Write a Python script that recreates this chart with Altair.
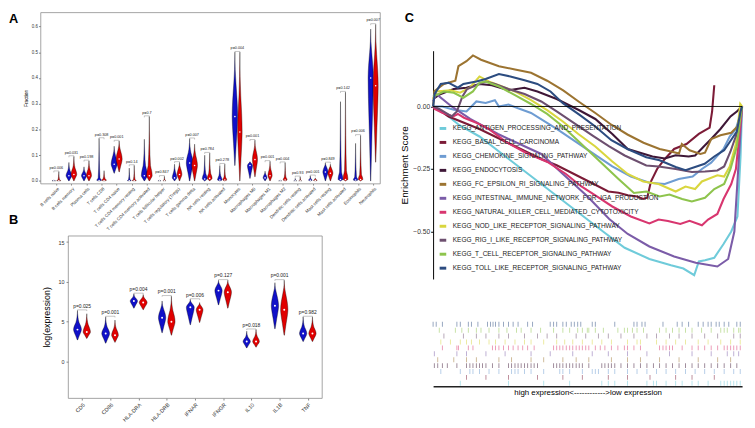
import json
import altair as alt
import pandas as pd

BLUE = "#1010C8"
RED = "#E00000"

# ---------------- Panel A : immune cell fractions ----------------
CELLS = ["B cells naive", "B cells memory", "Plasma cells", "T cells CD8", "T cells CD4 naive",
         "T cells CD4 memory resting", "T cells CD4 memory activated", "T cells follicular helper",
         "T cells regulatory (Tregs)", "T cells gamma delta", "NK cells resting", "NK cells activated",
         "Monocytes", "Macrophages M0", "Macrophages M1", "Macrophages M2", "Dendritic cells resting",
         "Dendritic cells activated", "Mast cells resting", "Mast cells activated", "Eosinophils",
         "Neutrophils"]
A_BLUE_MIN = [0, 0, 0, 0, 0.03, 0, 0, 0, 0, 0, 0, 0, 0.06, 0.01, 0, 0, 0, 0, 0, 0, 0, 0]
A_BLUE_MODE = [0.0005, 0.02, 0.02, 0.002, 0.065, 0.001, 0.02, 0.0005, 0.012, 0.07, 0.008, 0.004,
               0.25, 0.06, 0.012, 0.0005, 0.0005, 0.003, 0.035, 0.006, 0.004, 0.40]
A_BLUE_BODY = [0.002, 0.04, 0.035, 0.012, 0.10, 0.006, 0.06, 0.002, 0.035, 0.11, 0.03, 0.02,
               0.38, 0.07, 0.025, 0.002, 0.002, 0.008, 0.055, 0.035, 0.015, 0.50]
A_BLUE_MAX = [0.004, 0.072, 0.055, 0.165, 0.135, 0.05, 0.162, 0.003, 0.065, 0.164, 0.10, 0.06,
              0.50, 0.075, 0.038, 0.004, 0.01, 0.02, 0.07, 0.308, 0.146, 0.59]
A_BLUE_W = [0.12, 0.19, 0.17, 0.15, 0.20, 0.12, 0.20, 0.10, 0.15, 0.22, 0.16, 0.15,
            0.18, 0.17, 0.13, 0.10, 0.10, 0.12, 0.17, 0.16, 0.15, 0.17]
A_RED_MIN = [0, 0, 0, 0, 0.035, 0, 0, 0, 0, 0, 0, 0, 0.0, 0.016, 0, 0, 0, 0, 0, 0, 0, 0.073]
A_RED_MODE = [0.001, 0.025, 0.02, 0.002, 0.085, 0.001, 0.02, 0.0005, 0.025, 0.06, 0.01, 0.004,
              0.19, 0.083, 0.02, 0.004, 0.0005, 0.002, 0.03, 0.006, 0.006, 0.37]
A_RED_BODY = [0.004, 0.05, 0.045, 0.01, 0.12, 0.006, 0.06, 0.003, 0.05, 0.10, 0.03, 0.015,
              0.33, 0.12, 0.045, 0.015, 0.002, 0.006, 0.05, 0.04, 0.025, 0.49]
A_RED_MAX = [0.036, 0.095, 0.078, 0.04, 0.155, 0.06, 0.25, 0.018, 0.072, 0.143, 0.108, 0.065,
             0.50, 0.158, 0.076, 0.071, 0.016, 0.012, 0.065, 0.345, 0.177, 0.608]
A_RED_W = [0.14, 0.19, 0.17, 0.15, 0.20, 0.13, 0.19, 0.10, 0.16, 0.19, 0.16, 0.13,
           0.15, 0.17, 0.14, 0.13, 0.10, 0.12, 0.17, 0.16, 0.15, 0.17]
A_P = ["p=0.006", "p=0.031", "p=0.198", "p=0.308", "p=0.001", "p=0.14", "p=0.7", "p=0.847",
       "p=0.002", "p=0.007", "p=0.784", "p=0.278", "p=0.004", "p=0.001", "p=0.001", "p=0.004",
       "p=0.93", "p=0.001", "p=0.849", "p=0.142", "p=0.006", "p=0.007"]

# ---------------- Panel B : gene expression ----------------
GENES = ["CD5", "CD86", "HLA-DRA", "HLA-DRB", "IFNAR", "IFNGR", "IL10", "IL1B", "TNF"]
B_BLUE_MIN = [2.7, 2.3, 6.7, 3.6, 4.6, 7.1, 1.7, 4.1, 2.5]
B_BLUE_MODE = [4.0, 3.5, 7.6, 5.5, 6.8, 8.9, 2.5, 7.0, 3.5]
B_BLUE_BODY = [4.9, 4.3, 8.0, 6.6, 7.3, 9.6, 3.0, 8.6, 4.3]
B_BLUE_MAX = [6.4, 5.6, 8.5, 7.6, 7.8, 10.2, 3.8, 9.9, 5.6]
B_BLUE_W = [0.14, 0.14, 0.13, 0.13, 0.14, 0.13, 0.13, 0.13, 0.13]
B_RED_MIN = [2.9, 2.4, 6.5, 3.3, 4.9, 6.7, 1.8, 3.3, 2.5]
B_RED_MODE = [3.7, 3.3, 7.4, 5.0, 6.5, 8.7, 2.5, 6.5, 3.5]
B_RED_BODY = [4.6, 4.1, 7.9, 6.4, 7.0, 9.5, 3.1, 8.5, 4.3]
B_RED_MAX = [6.0, 5.2, 8.4, 8.2, 7.4, 10.2, 4.0, 10.2, 5.6]
B_RED_W = [0.13, 0.12, 0.14, 0.13, 0.12, 0.13, 0.12, 0.13, 0.13]
B_P = ["p=0.025", "p=0.001", "p=0.004", "p=0.001", "p=0.006", "p=0.127", "p=0.018", "p=0.001", "p=0.982"]

# generic violin silhouette (segment, fraction along segment, relative half-width)
SIL_PART = ["low", "low", "low", "mode", "up", "up", "tail", "tail"]
SIL_FRAC = [0.0, 0.45, 0.8, 1.0, 0.5, 1.0, 0.45, 1.0]
SIL_WIDTH = [0.05, 0.5, 0.88, 1.0, 0.8, 0.4, 0.12, 0.0]

# ---------------- Panel C : GSEA ----------------
SETS = ["KEGG_ANTIGEN_PROCESSING_AND_PRESENTATION", "KEGG_BASAL_CELL_CARCINOMA",
        "KEGG_CHEMOKINE_SIGNALING_PATHWAY", "KEGG_ENDOCYTOSIS", "KEGG_FC_EPSILON_RI_SIGNALING_PATHWAY",
        "KEGG_INTESTINAL_IMMUNE_NETWORK_FOR_IGA_PRODUCTION", "KEGG_NATURAL_KILLER_CELL_MEDIATED_CYTOTOXICITY",
        "KEGG_NOD_LIKE_RECEPTOR_SIGNALING_PATHWAY", "KEGG_RIG_I_LIKE_RECEPTOR_SIGNALING_PATHWAY",
        "KEGG_T_CELL_RECEPTOR_SIGNALING_PATHWAY", "KEGG_TOLL_LIKE_RECEPTOR_SIGNALING_PATHWAY"]
SET_COLORS = ["#6FCBDA", "#7C1B37", "#6E9CD2", "#3E1737", "#9C7431", "#7B5CA8", "#D8366F",
              "#D9D63F", "#6D4F6F", "#8EC44D", "#2C4C80"]

ANTIGEN_X = [0, 4, 8.5, 15, 25, 35, 45, 55, 62, 70, 77, 81, 84.5, 86, 88, 91, 94, 96.5, 97.5, 98.5, 99.5, 100]
ANTIGEN_Y = [0, -0.03, -0.075, -0.12, -0.215, -0.31, -0.405, -0.50, -0.565, -0.61, -0.635, -0.648, -0.675,
             -0.62, -0.615, -0.605, -0.55, -0.50, -0.47, -0.44, -0.2, 0]
BASAL_X = [0, 2, 5, 10, 15, 20, 25, 30, 35, 40, 44, 48, 52, 56.7, 60, 63, 66, 68, 69.3, 70.5, 72.5, 75, 78,
           82, 86, 89.5, 90.3, 91]
BASAL_Y = [0, -0.015, -0.04, -0.065, -0.09, -0.12, -0.15, -0.18, -0.21, -0.235, -0.26, -0.285, -0.31, -0.34,
           -0.345, -0.355, -0.36, -0.37, -0.365, -0.3, -0.25, -0.21, -0.17, -0.15, -0.11, -0.085, -0.02, 0.085]
CHEMOKINE_X = [0, 3, 6.7, 10.8, 12.4, 14, 17, 20, 21.3, 24.4, 27.5, 31.7, 34.8, 40, 46, 52, 58, 64, 70, 75,
               79.5, 84, 87, 90, 94, 96, 98, 99.2, 100]
CHEMOKINE_Y = [0, 0.0, -0.013, -0.02, 0.0, 0.02, 0.014, 0.025, 0.0, 0.008, -0.007, -0.026, -0.05, -0.09,
               -0.14, -0.19, -0.24, -0.28, -0.305, -0.31, -0.29, -0.28, -0.25, -0.225, -0.17, -0.12, -0.09,
               -0.04, 0]
ENDO_X = [0, 2.5, 6.7, 10.8, 15, 19, 24.4, 29.6, 33.75, 40, 47.3, 52.5, 58, 63, 71, 75, 78.5, 82.7, 84.8,
          88, 90, 93, 96.25, 98.3, 100]
ENDO_Y = [0.03, 0.05, 0.07, 0.075, 0.09, 0.085, 0.065, 0.075, 0.06, 0.03, -0.015, -0.05, -0.11, -0.17,
          -0.2, -0.208, -0.195, -0.2, -0.196, -0.155, -0.13, -0.09, -0.04, -0.02, 0]
FC_X = [0, 0.4, 3.5, 7.2, 8.2, 10.8, 12.9, 15.5, 21.3, 26.5, 31.7, 36.9, 42.1, 47.3, 52.5, 57.7, 62.9,
        68.1, 73.3, 77, 79.6, 80.5, 83, 86.5, 88, 90, 93, 96.5, 98.5, 100]
FC_Y = [0, 0.061, 0.09, 0.103, 0.161, 0.181, 0.204, 0.187, 0.161, 0.148, 0.135, 0.103, 0.064, 0.018,
        -0.026, -0.073, -0.112, -0.145, -0.17, -0.18, -0.188, -0.15, -0.175, -0.19, -0.185, -0.13, -0.115,
        -0.105, -0.08, 0]
INTESTINAL_X = [0, 1, 6, 12, 21, 28, 35, 42, 50, 57, 63, 70, 78, 85, 92, 95.5, 97.5, 99, 100]
INTESTINAL_Y = [0.02, 0.05, 0.0, -0.05, -0.11, -0.15, -0.19, -0.27, -0.36, -0.45, -0.51, -0.56, -0.6,
                -0.625, -0.64, -0.61, -0.5, -0.2, 0]
NK_X = [0, 0.5, 3, 6.5, 8, 10, 14, 18, 24, 30, 37, 43, 48, 53, 58, 64, 70, 73, 76, 80, 83, 87, 89, 92, 94,
        96.5, 98, 99, 100]
NK_Y = [0, -0.01, -0.025, -0.04, -0.03, -0.045, -0.065, -0.09, -0.145, -0.185, -0.222, -0.27, -0.32, -0.36,
        -0.4, -0.44, -0.468, -0.452, -0.458, -0.47, -0.457, -0.475, -0.452, -0.43, -0.37, -0.31, -0.25,
        -0.13, 0]
NOD_X = [0, 1, 5.6, 8.75, 11.9, 15, 18, 21.3, 26.5, 31.7, 36.9, 42, 47, 52.5, 58, 63, 68, 73, 78.5, 81.7,
         84.8, 87, 92, 94.2, 96, 98, 99.4, 100]
NOD_Y = [0.03, 0.06, 0.065, 0.055, 0.075, 0.12, 0.1, 0.085, 0.06, 0.025, -0.015, -0.06, -0.11, -0.16,
         -0.22, -0.27, -0.3, -0.31, -0.34, -0.32, -0.33, -0.3, -0.275, -0.28, -0.24, -0.15, 0.01, 0]
RIG_X = [0, 2, 6, 7.7, 9.5, 11, 17, 20, 24.4, 29.6, 35, 40, 46, 52, 57, 62, 69, 73, 78.5, 83.75, 88, 92,
         94.2, 96.25, 98.5, 100]
RIG_Y = [0.0, -0.01, -0.04, -0.02, 0.04, 0.07, 0.1, 0.09, 0.07, 0.05, 0.02, -0.02, -0.07, -0.12, -0.16,
         -0.196, -0.236, -0.24, -0.25, -0.262, -0.26, -0.256, -0.24, -0.18, -0.1, 0]
TCELL_X = [0, 3.5, 6.7, 9.8, 12.9, 15, 17, 21.3, 26.5, 31.7, 36.9, 42, 48, 54, 60, 65, 69, 73.3, 76.5,
           80.6, 83.75, 88, 91, 94.2, 96.25, 98.3, 99.4, 100]
TCELL_Y = [0.04, 0.06, 0.055, 0.035, 0.06, 0.095, 0.1, 0.08, 0.045, 0.01, -0.03, -0.08, -0.15, -0.22,
           -0.29, -0.346, -0.34, -0.36, -0.352, -0.37, -0.38, -0.365, -0.33, -0.31, -0.25, -0.16, -0.05, 0]
TOLL_X = [0, 0.5, 2.5, 5, 8, 9.8, 14, 17, 21.3, 25, 29.6, 33.75, 38, 42, 47.3, 52.5, 57.7, 62.9, 69, 73.3,
          78.5, 81.7, 87.9, 91, 94.2, 98.3, 99.5, 100]
TOLL_Y = [0.0, 0.05, 0.09, 0.095, 0.075, 0.09, 0.1, 0.11, 0.13, 0.12, 0.105, 0.09, 0.06, 0.013, -0.033,
          -0.08, -0.135, -0.17, -0.203, -0.215, -0.242, -0.255, -0.229, -0.2, -0.175, -0.1, -0.02, 0]
CURVES_X = [ANTIGEN_X, BASAL_X, CHEMOKINE_X, ENDO_X, FC_X, INTESTINAL_X, NK_X, NOD_X, RIG_X, TCELL_X, TOLL_X]
CURVES_Y = [ANTIGEN_Y, BASAL_Y, CHEMOKINE_Y, ENDO_Y, FC_Y, INTESTINAL_Y, NK_Y, NOD_Y, RIG_Y, TCELL_Y, TOLL_Y]

# gene-set hit positions (rank, 0-100)
HITS_ANTIGEN = [8.8, 24.4, 35.8, 44.2, 54.6, 56.7, 58.8, 62.9, 69.2, 71.3, 72.3, 75.4, 78.5, 80.6, 83.8,
                85.8, 89, 93.1, 94.2, 95.2, 96.3, 97.3, 98.3, 99.4]
HITS_BASAL = [10.8, 17.1, 24.4, 33.8, 42, 48.3, 56.7, 62.9, 70.2, 78.5, 83.8, 91]
HITS_CHEMOKINE = [2.5, 8.8, 11.9, 12.9, 15, 18.1, 21.3, 25.4, 26.5, 27.5, 29.6, 31.7, 35.8, 41, 42, 44.2,
                  48.3, 51.5, 52.5, 53.5, 56.7, 58.8, 62.9, 66, 69.2, 72.3, 75.4, 78.5, 81.7, 84.8, 87.9,
                  91, 94.2, 97.3, 99.4]
HITS_ENDO = [0.4, 1.5, 3, 4.6, 7.7, 10.8, 11.9, 12.9, 14, 15, 16, 17.1, 19.2, 21.3, 24.4, 25.4, 26.5, 27.5,
             28.5, 29.6, 30.6, 31.7, 32.7, 33.8, 39, 40, 41, 42, 43.1, 44.2, 45.2, 46.3, 47.3, 48.3, 50.4,
             54.6, 55.6, 56.7, 57.7, 58.8, 60.8, 62.9, 65, 67.1, 69.2, 71.3, 73.3, 75.4, 77.5, 79.6, 81.7,
             83.8, 85.8, 87.9, 90, 92.1, 94.2, 96.3, 98.3]
HITS_FC = [1.5, 6.7, 10.8, 14, 21.3, 25.4, 31.7, 35.8, 42, 46.3, 50.4, 57.7, 62.9, 67.1, 73.3, 79.6, 85.8,
           92.1, 96.3]
HITS_INTESTINAL = [0.4, 7.7, 10.8, 17.1, 23.3, 31.7, 37.9, 45.2, 51.5, 56.7, 62.9, 69.2, 76.5, 83.8, 90,
                   95.2, 97.3, 98.9]
HITS_NK = [3, 7.7, 8.2, 11.4, 12.9, 19.2, 20.2, 21.3, 22.8, 24.4, 25.9, 27.5, 29, 30.6, 32.7, 39, 40, 41,
           42, 43.1, 44.2, 45.2, 46.3, 47.3, 48.3, 49.4, 50.4, 52.5, 54.1, 55.6, 57.7, 59.8, 61.9, 62.9,
           65, 67.1, 73.3, 74.4, 75.4, 76.5, 77.5, 80.6, 83.8, 85.8, 87.9, 90, 92.1, 94.2, 95.2, 96.3,
           97.3, 98.3, 99.4]
HITS_NOD = [2.5, 5.6, 8.8, 10.8, 12.4, 15, 18.1, 20.2, 23.3, 26.5, 29.6, 31.7, 35.8, 40, 42.6, 45.2, 48.3,
            51.5, 54.6, 57.7, 62.9, 66, 67.1, 72.3, 75.4, 78.5, 81.7, 85.8, 89, 93.1, 96.3, 99.4]
HITS_RIG = [3.5, 9.8, 14, 17.1, 21.3, 24.4, 29.6, 33.8, 36.9, 40, 46.3, 49.4, 53.5, 56.7, 60.8, 65, 69.2,
            72.3, 76.5, 79.6, 83.8, 87.9, 92.1, 97.3, 99.4]
HITS_TCELL = [2, 7.2, 9.3, 11.4, 14, 15.5, 18.1, 21.3, 23.9, 27, 28.5, 31.7, 34.8, 39, 42, 44.2, 46.8,
              48.3, 49.9, 50.4, 52.5, 55.1, 59.8, 61.9, 62.9, 64.5, 66, 68.1, 73.3, 75.4, 77.5, 79.6,
              81.7, 83.8, 86.9, 90, 93.1, 94.2, 95.2, 97.3, 98.9, 99.4]
HITS_TOLL = [0, 1, 3, 7.7, 8.8, 11.4, 12.4, 14.5, 17.6, 18.6, 19.4, 20.2, 21.3, 22.8, 24.4, 25.9, 27.5,
             30.6, 32.2, 37.9, 39, 40, 42, 43.1, 44.7, 45.7, 46.8, 47.8, 51.5, 52.5, 58.8, 65, 66, 67.6,
             68.6, 74.4, 79, 80.6, 82.7, 85.8, 87.4, 89, 90, 91.6, 92.6, 94.2, 95.7, 98.3, 99.4]
HITS = [HITS_ANTIGEN, HITS_BASAL, HITS_CHEMOKINE, HITS_ENDO, HITS_FC, HITS_INTESTINAL, HITS_NK, HITS_NOD,
        HITS_RIG, HITS_TCELL, HITS_TOLL]


# ---------------- helpers ----------------
def violin_table(mins, modes, bodies, maxs, widths, offset):
    rows = []
    for i in range(len(mins)):
        c = i + offset
        for part, f, w in zip(SIL_PART, SIL_FRAC, SIL_WIDTH):
            if part == "low":
                y = mins[i] + f * (modes[i] - mins[i])
            elif part == "mode":
                y = modes[i]
            elif part == "up":
                y = modes[i] + f * (bodies[i] - modes[i])
            else:
                y = bodies[i] + f * (maxs[i] - bodies[i])
            hw = w * widths[i]
            rows.append({"vid": i, "y": y, "x": c - hw, "x2": c + hw})
    return pd.DataFrame(rows)


def median_table(modes_b, modes_r, off):
    rows = []
    for i in range(len(modes_b)):
        rows.append({"x": i - off, "y": modes_b[i]})
        rows.append({"x": i + off, "y": modes_r[i]})
    return pd.DataFrame(rows)


def bracket_tables(max_b, max_r, labels, off, pad, tip):
    segs, texts = [], []
    for i in range(len(labels)):
        yb = max(max_b[i], max_r[i]) + pad
        x1, x2 = i - off, i + off
        segs.append({"x": x1, "x2": x2, "y": yb, "y2": yb})
        segs.append({"x": x1, "x2": x1, "y": yb - tip, "y2": yb})
        segs.append({"x": x2, "x2": x2, "y": yb - tip, "y2": yb})
        texts.append({"x": float(i), "y": yb, "t": labels[i]})
    return pd.DataFrame(segs), pd.DataFrame(texts)


def violin_panel(blue, red, labels, off, xs, ys, xaxis, yaxis, pad, tip, pfont, dot):
    vb = violin_table(*blue, -off)
    vr = violin_table(*red, off)
    med = median_table(blue[1], red[1], off)
    segs, texts = bracket_tables(blue[3], red[3], labels, off, pad, tip)
    X = lambda: alt.X("x:Q", scale=xs, axis=xaxis)
    Y = lambda: alt.Y("y:Q", scale=ys, axis=yaxis)
    layers = []
    for df, col in ((vb, BLUE), (vr, RED)):
        layers.append(alt.Chart(df).mark_area(orient="horizontal", interpolate="monotone", fill=col,
                                              stroke="black", strokeWidth=0.35).encode(
            y=Y(), x=X(), x2="x2:Q", detail="vid:N"))
    layers.append(alt.Chart(med).mark_point(filled=True, color="white", size=dot, opacity=1,
                                            strokeWidth=0).encode(x=X(), y=Y()))
    layers.append(alt.Chart(segs).mark_rule(color="#8a8a8a", strokeWidth=0.5).encode(
        x=X(), x2="x2:Q", y=Y(), y2="y2:Q"))
    layers.append(alt.Chart(texts).mark_text(fontSize=pfont, baseline="bottom", dy=-1.2,
                                             color="#222").encode(x=X(), y=Y(), text="t:N"))
    return alt.layer(*layers)


def spacer(width, height, title=None):
    ch = alt.Chart(pd.DataFrame({"v": [0]})).mark_point(opacity=0).encode(
        x=alt.X("v:Q", axis=None), y=alt.Y("v:Q", axis=None))
    props = dict(width=width, height=height, view=alt.ViewBackground(stroke="transparent"))
    if title is not None:
        props["title"] = title
    return ch.properties(**props)


# ---------------- Panel A chart ----------------
A_XS = alt.Scale(domain=[-1.05, 21.45], nice=False, zero=False)
A_YS = alt.Scale(domain=[-0.01, 0.655], nice=False, zero=False)
a_xaxis = alt.Axis(values=list(range(len(CELLS))), labelExpr=json.dumps(CELLS) + "[datum.value]",
                   labelAngle=315, labelFontSize=4.5, labelOverlap=False, labelFlush=False,
                   labelPadding=1, tickSize=1.5, tickColor="#888", domain=False, grid=False,
                   title=None, labelColor="#333")
a_yaxis = alt.Axis(values=[0, 0.1, 0.2, 0.3, 0.4, 0.5, 0.6], format=".1f", labelFontSize=4.5,
                   tickSize=2, tickColor="#888", labelPadding=1, domain=False, grid=False,
                   title="Fraction", titleFontSize=4.8, titleFontWeight="normal", titlePadding=3,
                   labelColor="#333")
panelA = violin_panel((A_BLUE_MIN, A_BLUE_MODE, A_BLUE_BODY, A_BLUE_MAX, A_BLUE_W),
                      (A_RED_MIN, A_RED_MODE, A_RED_BODY, A_RED_MAX, A_RED_W),
                      A_P, 0.165, A_XS, A_YS, a_xaxis, a_yaxis, 0.003, 0.006, 3.8, 2.5).properties(
    width=345, height=174,
    view=alt.ViewBackground(stroke="#8c8c8c", strokeWidth=0.8),
    title=alt.TitleParams("A", orient="left", anchor="end", angle=0, align="right", baseline="top",
                          offset=-4, dy=1, fontSize=13, fontWeight="bold"))

# ---------------- Panel B chart ----------------
B_XS = alt.Scale(domain=[-0.5, 8.5], nice=False, zero=False)
B_YS = alt.Scale(domain=[-4.6, 15.8], nice=False, zero=False)
b_xaxis = alt.Axis(values=list(range(len(GENES))), labelExpr=json.dumps(GENES) + "[datum.value]",
                   labelAngle=315, labelFontSize=5.5, labelOverlap=False, labelFlush=False,
                   labelPadding=2, tickSize=2, tickColor="#888", domain=False, grid=False,
                   title=None, labelColor="#333")
b_yaxis = alt.Axis(values=[0, 5, 10, 15], labelFontSize=5.5, tickSize=2, tickColor="#888",
                   labelPadding=2, domain=False, grid=False, title="log(expression)",
                   titleFontSize=9, titleFontWeight="normal", titlePadding=7, labelColor="#333")
panelB = violin_panel((B_BLUE_MIN, B_BLUE_MODE, B_BLUE_BODY, B_BLUE_MAX, B_BLUE_W),
                      (B_RED_MIN, B_RED_MODE, B_RED_BODY, B_RED_MAX, B_RED_W),
                      B_P, 0.165, B_XS, B_YS, b_xaxis, b_yaxis, 0.08, 0.15, 5, 4).properties(
    width=258, height=165,
    view=alt.ViewBackground(stroke="#8c8c8c", strokeWidth=0.8),
    title=alt.TitleParams("B", anchor="start", frame="group", dx=-60, offset=9,
                          fontSize=13, fontWeight="bold"))

# ---------------- Panel C chart ----------------
es_rows = []
for s, xs_, ys_ in zip(SETS, CURVES_X, CURVES_Y):
    for k, (xv, yv) in enumerate(zip(xs_, ys_)):
        es_rows.append({"set": s, "k": k, "x": xv, "y": yv})
es_df = pd.DataFrame(es_rows)
rug_df = pd.DataFrame([{"set": s, "pos": p} for s, hs in zip(SETS, HITS) for p in hs])

C_XS = alt.Scale(domain=[0, 100], nice=False, zero=False)
C_YS = alt.Scale(domain=[-0.69, 0.223], nice=False, zero=False)
set_scale = alt.Scale(domain=SETS, range=SET_COLORS)
c_yaxis = alt.Axis(values=[-0.5, -0.25, 0], format=".2f", title="Enrichment Score",
                   titleFontSize=10, titleFontWeight="normal", titlePadding=3,
                   labelFontSize=6.8, labelPadding=1, tickSize=2.5, tickColor="black",
                   domainColor="black", domainWidth=1, grid=False, labelColor="#333")

es_lines = alt.Chart(es_df).mark_line(strokeWidth=2.1).encode(
    x=alt.X("x:Q", scale=C_XS, axis=None),
    y=alt.Y("y:Q", scale=C_YS, axis=c_yaxis),
    color=alt.Color("set:N", scale=set_scale,
                    legend=alt.Legend(title=None, orient="bottom-left", offset=5, labelFontSize=6.6,
                                      labelLimit=0, symbolType="stroke", symbolStrokeWidth=3,
                                      symbolSize=45, rowPadding=2.2, labelOffset=5, padding=0,
                                      labelColor="#222")),
    order="k:Q")
zero_rule = alt.Chart(pd.DataFrame({"y": [0.0]})).mark_rule(color="black", strokeWidth=0.9).encode(
    y=alt.Y("y:Q", scale=C_YS, axis=c_yaxis))
es_chart = alt.layer(es_lines, zero_rule).properties(
    width=314, height=232, view=alt.ViewBackground(stroke="transparent"))

rug_chart = alt.Chart(rug_df).mark_tick(thickness=0.9, size=5, opacity=0.55).encode(
    x=alt.X("pos:Q", scale=C_XS,
            axis=alt.Axis(title="high expression<------------>low expression", labels=False,
                          ticks=False, domainColor="#222", domainWidth=1.3, grid=False,
                          titleFontSize=8, titleFontWeight="normal", titlePadding=2)),
    y=alt.Y("set:N", sort=SETS[::-1], axis=None),
    color=alt.Color("set:N", scale=set_scale, legend=None)).properties(
    width=314, height=66, view=alt.ViewBackground(stroke="transparent"))

c_letter = spacer(314, 20, alt.TitleParams("C", orient="left", anchor="end", angle=0, align="right",
                                           baseline="top", offset=10, fontSize=13, fontWeight="bold"))
es_rug = alt.vconcat(es_chart, rug_chart, spacing=41).resolve_scale(color="independent")
panelC = alt.vconcat(c_letter, es_rug, spacing=17)

rowB = alt.hconcat(spacer(1, 1), panelB, spacing=-37)
left = alt.vconcat(panelA, rowB, spacing=-19)
chart = alt.hconcat(left, panelC, spacing=18).properties(
    padding={"left": 0, "top": 0, "right": 0, "bottom": 0}
).configure(font="Liberation Sans").configure_view(stroke="transparent")

chart.save("out.html", embed_options={"renderer": "svg", "actions": False})
